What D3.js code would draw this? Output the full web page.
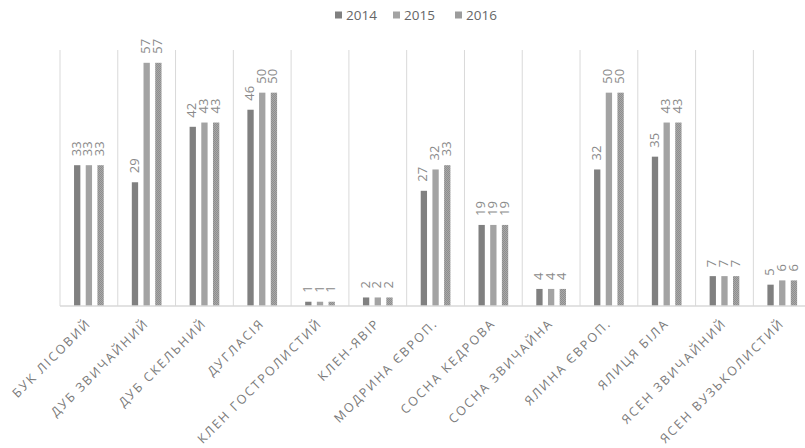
<!DOCTYPE html>
<html><head><meta charset="utf-8">
<script src="https://cdn.jsdelivr.net/npm/d3@7"></script>
<style>body{margin:0;background:#fff}svg{display:block}</style>
</head><body>
<svg id="c" width="805" height="448"></svg>
<script>
const categories = ["БУК ЛІСОВИЙ","ДУБ ЗВИЧАЙНИЙ","ДУБ СКЕЛЬНИЙ","ДУГЛАСІЯ","КЛЕН ГОСТРОЛИСТИЙ","КЛЕН-ЯВІР","МОДРИНА ЄВРОП.","СОСНА КЕДРОВА","СОСНА ЗВИЧАЙНА","ЯЛИНА ЄВРОП.","ЯЛИЦЯ БІЛА","ЯСЕН ЗВИЧАЙНИЙ","ЯСЕН ВУЗЬКОЛИСТИЙ"];
const seriesNames = ["2014","2015","2016"];
const values2014 = [33,29,42,46,1,2,27,19,4,32,35,7,5];
const values2015 = [33,57,43,50,1,2,32,19,4,50,43,7,6];
const values2016 = [33,57,43,50,1,2,33,19,4,50,43,7,6];
const seriesValues = [values2014, values2015, values2016];

const svg = d3.select("#c");
const font = "'Open Sans', 'DejaVu Sans', sans-serif";
const defs = svg.append("defs");
const pat = defs.append("pattern").attr("id","p16").attr("width",2).attr("height",2).attr("patternUnits","userSpaceOnUse");
pat.append("rect").attr("width",2).attr("height",2).attr("fill","#a9a9a9");
pat.append("rect").attr("width",1).attr("height",1).attr("fill","#8e8e8e");
pat.append("rect").attr("x",1).attr("y",1).attr("width",1).attr("height",1).attr("fill","#8e8e8e");
const colors = ["#808080","#a3a3a3","url(#p16)"];

const plotLeft = 60, bandW = 57.78, base = 306, plotTop = 50;
const x = d3.scaleBand().domain(categories).range([plotLeft, plotLeft + bandW*categories.length]).padding(0);
const xi = d3.scaleBand().domain(seriesNames).range([bandW/2 - 14.85, bandW/2 + 14.85]).paddingInner(0.46).paddingOuter(0);
const y = d3.scaleLinear().domain([0,60]).range([base, plotTop]);

// vertical gridlines at category boundaries
const bounds = categories.map(c => x(c)).concat([x.range()[1]]);
svg.append("g").selectAll("line").data(bounds).join("line")
  .attr("x1", d=>d).attr("x2", d=>d).attr("y1", y(60)).attr("y2", base)
  .attr("stroke","#d9d9d9").attr("stroke-width",1);

// bars
const g = svg.append("g");
seriesNames.forEach((s, si) => {
  g.append("g").selectAll("rect").data(categories).join("rect")
    .attr("x", (c)=> x(c) + xi(s))
    .attr("width", xi.bandwidth())
    .attr("y", (c,i)=> y(seriesValues[si][i]))
    .attr("height", (c,i)=> base - y(seriesValues[si][i]))
    .attr("fill", colors[si]);
  g.append("g").selectAll("text").data(categories).join("text")
    .attr("transform", (c,i)=> `translate(${x(c)+xi(s)+xi.bandwidth()/2 - 1},${y(seriesValues[si][i]) - 9}) rotate(-90)`)
    .attr("dy","0.35em")
    .attr("text-anchor","start")
    .attr("font-family", font).attr("font-size", 13).attr("fill","#8a8a8a")
    .text((c,i)=> seriesValues[si][i]);
});

// x axis
const xAxis = d3.axisBottom(x).tickSize(0).tickPadding(0);
const ax = svg.append("g").attr("transform",`translate(0,${base})`).call(xAxis);
ax.select(".domain").remove();
ax.append("line").attr("x1", plotLeft).attr("x2", 805).attr("y1",0).attr("y2",0).attr("stroke","#d9d9d9").attr("stroke-width",1.5);
ax.selectAll(".tick text")
  .attr("font-family", font).attr("font-size", 12.5).attr("fill","#7a7a7a")
  .attr("letter-spacing","2px")
  .attr("text-anchor","end")
  .attr("dy", 0).attr("y", 0)
  .attr("transform","translate(3,18) rotate(-45)");

// legend
const lg = svg.append("g").attr("transform","translate(0,15.5)");
const lx = [335, 393, 455];
seriesNames.forEach((s,i)=>{
  lg.append("rect").attr("x", lx[i]).attr("y",-4).attr("width",7).attr("height",7).attr("fill",colors[i]);
  lg.append("text").attr("x", lx[i]+11).attr("y",0).attr("dy","0.35em")
    .attr("font-family", font).attr("font-size",13.5).attr("fill","#666").text(s);
});
</script>
</body></html>
